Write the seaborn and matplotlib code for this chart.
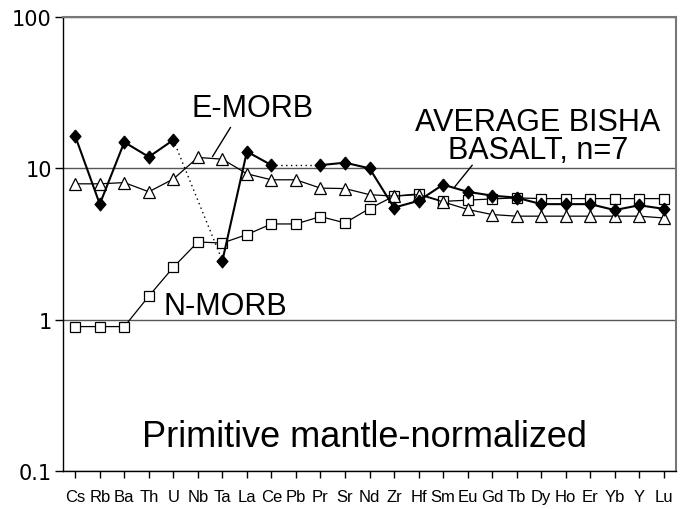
import numpy as np
import pandas as pd
import matplotlib
matplotlib.use("Agg")
import matplotlib.pyplot as plt
import seaborn as sns

elements = ["Cs", "Rb", "Ba", "Th", "U", "Nb", "Ta", "La", "Ce", "Pb", "Pr", "Sr", "Nd",
            "Zr", "Hf", "Sm", "Eu", "Gd", "Tb", "Dy", "Ho", "Er", "Yb", "Y", "Lu"]
bisha = [16.3, 5.8, 14.9, 11.9, 15.4, np.nan, 2.45, 12.9, 10.5, np.nan, 10.5, 10.9, 10.0,
         5.5, 6.1, 7.8, 7.0, 6.6, 6.4, 5.8, 5.8, 5.8, 5.3, 5.7, 5.4]
nmorb = [0.9, 0.9, 0.9, 1.43, 2.22, 3.26, 3.21, 3.65, 4.29, 4.29, 4.80, 4.36, 5.42,
         6.55, 6.78, 6.05, 6.16, 6.28, 6.38, 6.31, 6.31, 6.31, 6.31, 6.31, 6.31]
emorb = [7.9, 7.9, 8.05, 7.0, 8.5, 11.8, 11.5, 9.2, 8.4, 8.4, 7.4, 7.35, 6.7,
         6.55, 6.7, 6.0, 5.35, 4.95, 4.83, 4.83, 4.83, 4.83, 4.83, 4.83, 4.7]
yticks = [0.1, 1, 10, 100]
ytick_labels = ["0.1", "1", "10", "100"]

sns.set_style("ticks")
plt.rcParams["font.family"] = ["Liberation Sans", "DejaVu Sans"]
plt.rcParams["text.color"] = "black"
plt.rcParams["xtick.color"] = "black"
plt.rcParams["ytick.color"] = "black"
plt.rcParams["xtick.labelcolor"] = "black"
plt.rcParams["ytick.labelcolor"] = "black"

pos = np.arange(len(elements))
df = pd.DataFrame({"pos": pos, "el": elements, "bisha": bisha, "nmorb": nmorb, "emorb": emorb})

# segments of Bisha (solid) separated by gaps
seg = np.cumsum(df["bisha"].isna().astype(int))
df["seg"] = seg

fig = plt.figure(figsize=(6.8, 5.1), dpi=100)
ax = fig.add_axes([63 / 680, 1 - 472 / 510, 613 / 680, 454 / 510])

diamond = [(0, 1), (0.85, 0), (0, -1), (-0.85, 0), (0, 1)]

sns.lineplot(data=df, x="pos", y="nmorb", ax=ax, color="black", lw=0.9,
             marker="s", markersize=7.3, markerfacecolor="white", markeredgecolor="black",
             markeredgewidth=0.9, zorder=3)
sns.lineplot(data=df, x="pos", y="emorb", ax=ax, color="black", lw=0.9,
             marker="^", markersize=8.0, markerfacecolor="white", markeredgecolor="black",
             markeredgewidth=0.9, zorder=4)

# dotted bridges across missing Bisha values
valid = df.dropna(subset=["bisha"]).reset_index(drop=True)
bridges = []
for i in range(len(valid) - 1):
    if valid.loc[i + 1, "pos"] - valid.loc[i, "pos"] > 1:
        bridges.append(valid.iloc[[i, i + 1]].assign(b=i))
if bridges:
    bdf = pd.concat(bridges)
    sns.lineplot(data=bdf, x="pos", y="bisha", units="b", estimator=None, ax=ax,
                 color="black", lw=1.0, linestyle=(0, (1, 2.5)), zorder=4.5)

sns.lineplot(data=valid, x="pos", y="bisha", units="seg", estimator=None, ax=ax,
             color="black", lw=1.5, marker=diamond, markersize=9.4,
             markerfacecolor="black", markeredgecolor="black", zorder=5)

ax.set_yscale("log")
ax.set_ylim(0.1, 100)
ax.set_xlim(-0.5, len(elements) - 0.5)
ax.set_yticks(yticks)
ax.set_yticklabels(ytick_labels, fontsize=15, family=["DejaVu Sans"], color="black")
ax.minorticks_off()
ax.yaxis.set_minor_locator(matplotlib.ticker.NullLocator())
ax.set_xticks(pos)
ax.set_xticklabels(elements, fontsize=12, family=["Liberation Sans Narrow", "Liberation Sans"],
                   color="black")
ax.tick_params(axis="y", direction="out", length=6, width=1, pad=2, colors="black")
ax.tick_params(axis="x", direction="out", length=5, width=1, pad=8, colors="black")
ax.set_xlabel("")
ax.set_ylabel("")

ax.yaxis.grid(True, color="#555555", lw=1.0)
ax.xaxis.grid(False)
for s in ["left", "bottom"]:
    ax.spines[s].set_color("black")
    ax.spines[s].set_linewidth(1.0)
for s in ["top", "right"]:
    ax.spines[s].set_visible(True)
    ax.spines[s].set_color("#777777")
    ax.spines[s].set_linewidth(1.5)

fx = lambda px, py: fig.transFigure.inverted().transform((px, 510 - py))

txt = dict(transform=fig.transFigure, ha="center", va="center", color="black")
ax.text(*fx(252, 109), "E-MORB", fontsize=22, **txt)
ax.text(*fx(225, 307), "N-MORB", fontsize=22, **txt)
ax.text(*fx(538, 137), "AVERAGE BISHA\nBASALT, n=7", fontsize=22, linespacing=0.9, **txt)
ax.text(*fx(364, 438), "Primitive mantle-normalized", fontsize=26, **txt)

# leader lines (annotation arrows without heads)
ax.annotate("", xy=fx(211, 160), xytext=fx(232, 126), xycoords="figure fraction",
            textcoords="figure fraction", arrowprops=dict(arrowstyle="-", color="black", lw=1.0))
ax.annotate("", xy=fx(453, 190), xytext=fx(474, 164), xycoords="figure fraction",
            textcoords="figure fraction", arrowprops=dict(arrowstyle="-", color="black", lw=1.0))

fig.savefig("out.png", dpi=100)
